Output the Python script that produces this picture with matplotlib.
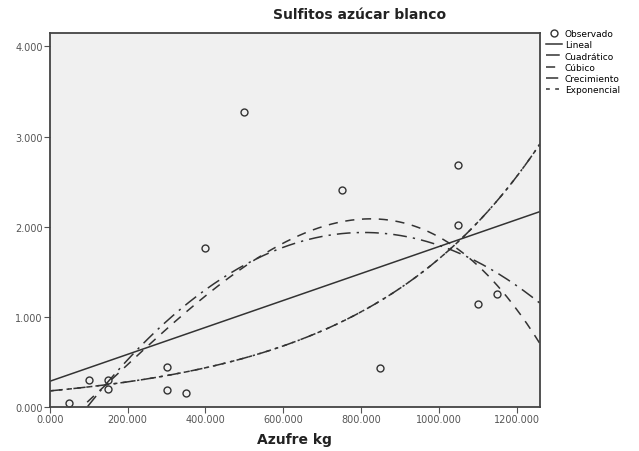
import numpy as np
import matplotlib.pyplot as plt

azufre = [50, 100, 150, 150, 300, 300, 350, 400, 500, 750, 850, 1050, 1050, 1100, 1150]
sulfitos = [0.05, 0.30, 0.30, 0.20, 0.45, 0.19, 0.16, 1.76, 3.27, 2.41, 0.43, 2.68, 2.02, 1.145, 1.26]

xticks = [0, 200, 400, 600, 800, 1000, 1200]
yticks = [0, 1, 2, 3, 4]

x = np.array(azufre, dtype=float)
y = np.array(sulfitos, dtype=float)
xs = np.linspace(0, 1260, 300)

# curve estimation models
lin = np.polyval(np.polyfit(x, y, 1), xs)
quad = np.polyval(np.polyfit(x, y, 2), xs)
cub = np.polyval(np.polyfit(x, y, 3), xs)
b1, b0 = np.polyfit(x, np.log(y), 1)
grow = np.exp(b0 + b1 * xs)
expo = np.exp(b0) * np.exp(b1 * xs)

fig = plt.figure(figsize=(6.39, 4.52), dpi=100)
ax = fig.add_axes([0.078, 0.097, 0.767, 0.828])
ax.set_facecolor('#f0f0f0')

c = '#333333'
ax.plot(x, y, 'o', mfc='none', mec=c, ms=5, mew=1, label='Observado')
ax.plot(xs, lin, color=c, lw=1.1, label='Lineal')
ax.plot(xs, quad, color=c, lw=1.1, dashes=(9, 4, 1.5, 4), label='Cuadrático')
ax.plot(xs, cub, color=c, lw=1.1, dashes=(6, 5), label='Cúbico')
ax.plot(xs, grow, color=c, lw=1.1, dashes=(8, 3, 1.5, 3), label='Crecimiento')
ax.plot(xs, expo, color=c, lw=1.1, dashes=(2.5, 3.5), label='Exponencial')

ax.set_xlim(0, 1260)
ax.set_ylim(0, 4.15)
ax.set_xticks(xticks)
ax.set_xticklabels(['{:.3f}'.format(v) for v in xticks], fontsize=7, color='#555555')
ax.set_yticks(yticks)
ax.set_yticklabels(['{:.3f}'.format(v) for v in yticks], fontsize=7, color='#555555')
ax.tick_params(length=4, width=0.8, color='#555555', pad=1)
for s in ax.spines.values():
    s.set_linewidth(1.3)
    s.set_color('#444444')

ax.set_xlabel('Azufre kg', fontsize=10, fontweight='bold', color='#222222', labelpad=6)
fig.text(0.563, 0.967, 'Sulfitos azúcar blanco', ha='center', va='center',
         fontsize=10, fontweight='bold', color='#222222')

leg = ax.legend(loc='upper left', bbox_to_anchor=(1.005, 1.02), frameon=False,
                fontsize=6.5, handlelength=1.8, handletextpad=0.3,
                labelspacing=0.25, borderaxespad=0)

fig.savefig('out.png', dpi=100)
